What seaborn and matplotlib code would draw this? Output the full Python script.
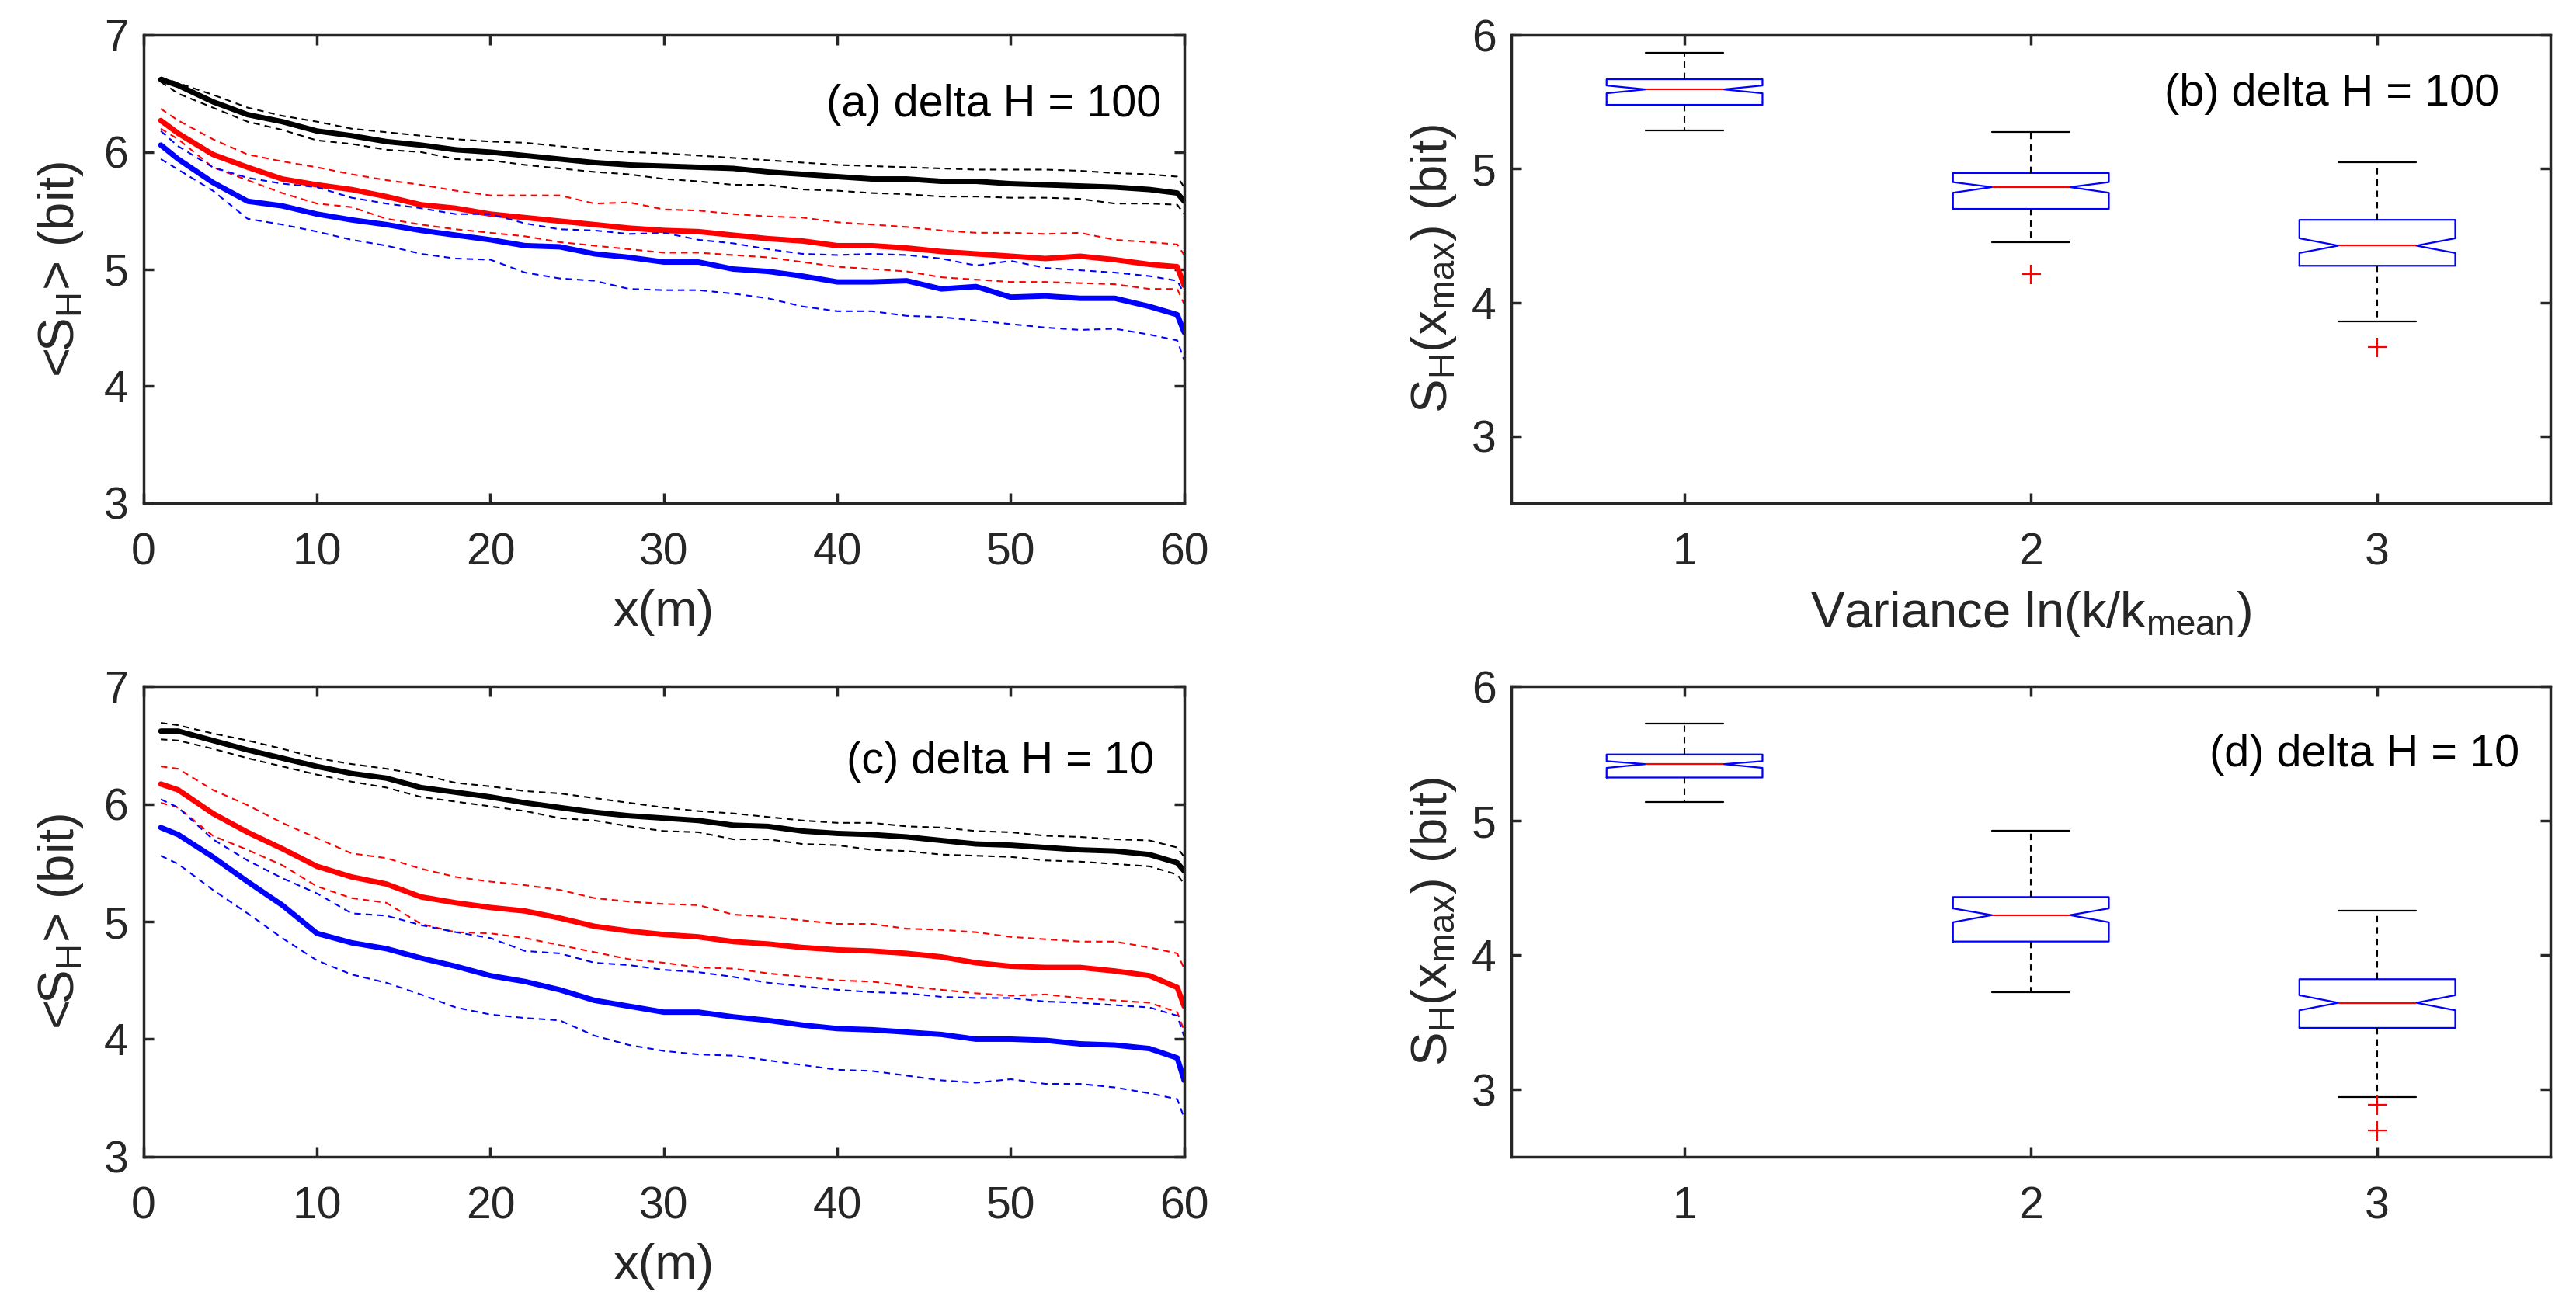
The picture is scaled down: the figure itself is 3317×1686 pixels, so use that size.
import matplotlib
matplotlib.use("Agg")
import matplotlib.pyplot as plt
import seaborn as sns

# distance along the domain (m), common to every profile
x_m = [1, 2, 4, 6, 8, 10, 12, 14, 16, 18, 20, 22, 24, 26, 28, 30,
       32, 34, 36, 38, 40, 42, 44, 46, 48, 50, 52, 54, 56, 58, 59.6, 60]

# panel (a): delta H = 100, mean entropy and mean +/- std
a_black_mean = [6.62, 6.57, 6.43, 6.32, 6.26, 6.18, 6.14, 6.09, 6.06, 6.02, 6.00, 5.97, 5.94, 5.91, 5.89, 5.88,
                5.87, 5.86, 5.83, 5.81, 5.79, 5.77, 5.77, 5.75, 5.75, 5.73, 5.72, 5.71, 5.70, 5.68, 5.65, 5.58]
a_black_up = [6.64, 6.59, 6.49, 6.38, 6.31, 6.26, 6.20, 6.17, 6.14, 6.11, 6.09, 6.08, 6.05, 6.02, 6.00, 5.99,
              5.97, 5.95, 5.93, 5.91, 5.89, 5.88, 5.87, 5.86, 5.85, 5.85, 5.85, 5.84, 5.82, 5.81, 5.79, 5.70]
a_black_lo = [6.60, 6.50, 6.38, 6.26, 6.19, 6.10, 6.07, 6.02, 6.00, 5.94, 5.93, 5.89, 5.86, 5.83, 5.81, 5.77,
              5.75, 5.72, 5.72, 5.68, 5.67, 5.65, 5.64, 5.62, 5.62, 5.61, 5.61, 5.60, 5.56, 5.56, 5.55, 5.47]
a_red_mean = [6.27, 6.16, 5.98, 5.87, 5.77, 5.72, 5.68, 5.62, 5.55, 5.52, 5.47, 5.44, 5.41, 5.38, 5.35, 5.33,
              5.32, 5.29, 5.26, 5.24, 5.20, 5.20, 5.18, 5.15, 5.13, 5.11, 5.09, 5.11, 5.08, 5.04, 5.02, 4.86]
a_red_up = [6.37, 6.27, 6.11, 5.98, 5.92, 5.87, 5.81, 5.76, 5.72, 5.67, 5.63, 5.63, 5.63, 5.56, 5.57, 5.51,
            5.50, 5.47, 5.45, 5.44, 5.40, 5.38, 5.36, 5.33, 5.31, 5.31, 5.30, 5.31, 5.25, 5.23, 5.21, 5.12]
a_red_lo = [6.20, 6.11, 5.87, 5.76, 5.65, 5.56, 5.53, 5.43, 5.38, 5.34, 5.31, 5.28, 5.23, 5.20, 5.17, 5.14,
            5.14, 5.12, 5.10, 5.06, 5.02, 5.00, 4.98, 4.93, 4.91, 4.89, 4.89, 4.88, 4.87, 4.83, 4.83, 4.70]
a_blue_mean = [6.06, 5.94, 5.74, 5.58, 5.54, 5.47, 5.42, 5.38, 5.33, 5.29, 5.25, 5.20, 5.19, 5.13, 5.10, 5.06,
               5.06, 5.00, 4.98, 4.94, 4.89, 4.89, 4.90, 4.83, 4.85, 4.76, 4.77, 4.75, 4.75, 4.68, 4.61, 4.46]
a_blue_up = [6.18, 6.05, 5.87, 5.78, 5.73, 5.70, 5.61, 5.56, 5.52, 5.47, 5.47, 5.39, 5.34, 5.33, 5.30, 5.31,
             5.25, 5.22, 5.17, 5.13, 5.12, 5.13, 5.12, 5.09, 5.03, 5.07, 5.01, 4.99, 4.97, 4.94, 4.90, 4.79]
a_blue_lo = [5.94, 5.85, 5.67, 5.43, 5.38, 5.32, 5.25, 5.20, 5.13, 5.09, 5.08, 4.97, 4.92, 4.90, 4.83, 4.82,
             4.82, 4.79, 4.75, 4.68, 4.64, 4.64, 4.60, 4.59, 4.56, 4.53, 4.50, 4.48, 4.49, 4.44, 4.39, 4.22]

# panel (c): delta H = 10
c_black_mean = [6.62, 6.62, 6.54, 6.46, 6.39, 6.32, 6.26, 6.22, 6.14, 6.10, 6.06, 6.01, 5.97, 5.93, 5.90, 5.88,
                5.86, 5.82, 5.81, 5.77, 5.75, 5.74, 5.72, 5.69, 5.66, 5.65, 5.63, 5.61, 5.60, 5.57, 5.50, 5.43]
c_black_up = [6.69, 6.67, 6.60, 6.54, 6.47, 6.39, 6.34, 6.30, 6.25, 6.18, 6.15, 6.11, 6.09, 6.05, 6.01, 5.97,
              5.94, 5.92, 5.89, 5.86, 5.84, 5.84, 5.81, 5.80, 5.77, 5.76, 5.73, 5.72, 5.70, 5.69, 5.63, 5.55]
c_black_lo = [6.55, 6.54, 6.47, 6.39, 6.32, 6.25, 6.19, 6.14, 6.06, 6.02, 5.98, 5.94, 5.88, 5.86, 5.81, 5.77,
              5.76, 5.70, 5.70, 5.66, 5.65, 5.61, 5.60, 5.57, 5.56, 5.55, 5.52, 5.51, 5.49, 5.47, 5.40, 5.32]
c_red_mean = [6.17, 6.12, 5.92, 5.76, 5.62, 5.47, 5.38, 5.32, 5.21, 5.16, 5.12, 5.09, 5.03, 4.96, 4.92, 4.89,
              4.87, 4.83, 4.81, 4.78, 4.76, 4.75, 4.73, 4.70, 4.65, 4.62, 4.61, 4.61, 4.58, 4.54, 4.44, 4.28]
c_red_up = [6.32, 6.30, 6.12, 5.99, 5.84, 5.71, 5.58, 5.54, 5.45, 5.38, 5.34, 5.31, 5.27, 5.20, 5.17, 5.15,
            5.14, 5.06, 5.04, 5.01, 4.98, 4.98, 4.94, 4.93, 4.91, 4.87, 4.85, 4.83, 4.83, 4.78, 4.73, 4.60]
c_red_lo = [6.01, 5.97, 5.73, 5.61, 5.48, 5.30, 5.20, 5.16, 4.98, 4.91, 4.90, 4.86, 4.80, 4.74, 4.68, 4.65,
            4.61, 4.60, 4.56, 4.53, 4.50, 4.49, 4.45, 4.42, 4.39, 4.37, 4.38, 4.35, 4.33, 4.31, 4.23, 4.07]
c_blue_mean = [5.80, 5.74, 5.55, 5.34, 5.14, 4.90, 4.82, 4.77, 4.69, 4.62, 4.54, 4.49, 4.42, 4.33, 4.28, 4.23,
               4.23, 4.19, 4.16, 4.12, 4.09, 4.08, 4.06, 4.04, 4.00, 4.00, 3.99, 3.96, 3.95, 3.92, 3.84, 3.65]
c_blue_up = [6.04, 5.97, 5.70, 5.52, 5.37, 5.24, 5.07, 5.05, 4.97, 4.91, 4.86, 4.75, 4.73, 4.65, 4.63, 4.59,
             4.57, 4.53, 4.48, 4.45, 4.42, 4.40, 4.39, 4.36, 4.35, 4.35, 4.32, 4.31, 4.29, 4.27, 4.20, 4.02]
c_blue_lo = [5.56, 5.49, 5.27, 5.07, 4.86, 4.67, 4.55, 4.48, 4.38, 4.27, 4.21, 4.18, 4.16, 4.03, 3.95, 3.90,
             3.87, 3.86, 3.82, 3.78, 3.74, 3.73, 3.69, 3.65, 3.63, 3.66, 3.62, 3.62, 3.59, 3.54, 3.49, 3.33]

# box plot statistics of S_H(x_max) for variance 1, 2, 3
variance = [1, 2, 3]
b_med = [5.594, 4.863, 4.425]
b_q1 = [5.478, 4.700, 4.275]
b_q3 = [5.670, 4.968, 4.618]
b_whislo = [5.285, 4.452, 3.860]
b_whishi = [5.869, 5.274, 5.049]
b_cilo = [5.565, 4.821, 4.370]
b_cihi = [5.623, 4.900, 4.480]
b_fliers = [[], [4.21], [3.668]]

d_med = [5.422, 4.298, 3.646]
d_q1 = [5.322, 4.102, 3.459]
d_q3 = [5.494, 4.433, 3.821]
d_whislo = [5.141, 3.724, 2.943]
d_whishi = [5.725, 4.929, 4.333]
d_cilo = [5.394, 4.245, 3.590]
d_cihi = [5.444, 4.348, 3.702]
d_fliers = [[], [], [2.884, 2.697]]

sns.set_theme(style="ticks")
axis_grey = "#262626"
plt.rcParams["font.family"] = ["Liberation Sans", "DejaVu Sans"]
plt.rcParams["mathtext.fontset"] = "custom"
plt.rcParams["mathtext.rm"] = "Liberation Sans"
plt.rcParams["mathtext.it"] = "Liberation Sans:italic"
plt.rcParams["text.color"] = axis_grey
plt.rcParams["axes.labelcolor"] = axis_grey

fig = plt.figure(figsize=(33.17, 16.86), dpi=100)
ax_a = fig.add_axes([0.0557, 0.6157, 0.4040, 0.3575])
ax_b = fig.add_axes([0.5867, 0.6157, 0.4034, 0.3575])
ax_c = fig.add_axes([0.0557, 0.1163, 0.4040, 0.3593])
ax_d = fig.add_axes([0.5867, 0.1163, 0.4034, 0.3593])

LABEL_SIZE = 47
TICK_SIZE = 41
TAG_SIZE = 41.5
DASHED = (0, (4, 3))


def style_axes(ax):
    for side in ["left", "right", "top", "bottom"]:
        ax.spines[side].set_visible(True)
        ax.spines[side].set_linewidth(2.5)
        ax.spines[side].set_color(axis_grey)
    ax.tick_params(axis="both", direction="in", length=9.5, width=2.5, color=axis_grey,
                   labelcolor=axis_grey, labelsize=TICK_SIZE, top=True, right=True)
    ax.tick_params(axis="x", pad=27)
    ax.tick_params(axis="y", pad=14)


def draw_profiles(ax, groups, tag, tag_xy):
    for mean, upper, lower, colour in groups:
        sns.lineplot(x=x_m, y=upper, ax=ax, color=colour, lw=1.5, linestyle=DASHED)
        sns.lineplot(x=x_m, y=lower, ax=ax, color=colour, lw=1.5, linestyle=DASHED)
        sns.lineplot(x=x_m, y=mean, ax=ax, color=colour, lw=5)
    ax.set_xlim(0, 60)
    ax.set_ylim(3, 7)
    ax.set_xticks(range(0, 61, 10))
    ax.set_yticks([3, 4, 5, 6, 7])
    ax.set_xlabel("x(m)", fontsize=LABEL_SIZE, labelpad=14)
    ax.set_ylabel(r"<S$_{\rm H}$> (bit)", fontsize=LABEL_SIZE, labelpad=17)
    ax.text(tag_xy[0], tag_xy[1], tag, transform=ax.transAxes, ha="right", va="baseline",
            fontsize=TAG_SIZE, color="black")
    style_axes(ax)


def draw_boxes(ax, med, q1, q3, lo, hi, cilo, cihi, fliers, tag, tag_xy):
    stats = []
    for i in range(len(variance)):
        stats.append(dict(med=med[i], q1=q1[i], q3=q3[i], whislo=lo[i], whishi=hi[i],
                          cilo=cilo[i], cihi=cihi[i], fliers=fliers[i]))
    ax.bxp(stats, positions=variance, widths=0.45, capwidths=0.225, shownotches=True,
           boxprops=dict(color="blue", lw=1.6),
           medianprops=dict(color="red", lw=1.6),
           whiskerprops=dict(color="black", lw=1.5, linestyle=(0, (4, 3))),
           capprops=dict(color="black", lw=1.6),
           flierprops=dict(marker="+", markeredgecolor="red", markersize=18,
                           markeredgewidth=1.6, linestyle="none"),
           manage_ticks=False)
    ax.set_xlim(0.5, 3.5)
    ax.set_ylim(2.5, 6)
    ax.set_xticks(variance)
    ax.set_yticks([3, 4, 5, 6])
    ax.set_ylabel(r"S$_{\rm H}$(x$_{\rm max}$) (bit)", fontsize=LABEL_SIZE, labelpad=12)
    ax.text(tag_xy[0], tag_xy[1], tag, transform=ax.transAxes, ha="right", va="baseline",
            fontsize=TAG_SIZE, color="black")
    style_axes(ax)


draw_profiles(ax_a, [(a_black_mean, a_black_up, a_black_lo, "black"),
                     (a_red_mean, a_red_up, a_red_lo, "red"),
                     (a_blue_mean, a_blue_up, a_blue_lo, "blue")],
              "(a) delta H = 100", (0.978, 0.826))
draw_profiles(ax_c, [(c_black_mean, c_black_up, c_black_lo, "black"),
                     (c_red_mean, c_red_up, c_red_lo, "red"),
                     (c_blue_mean, c_blue_up, c_blue_lo, "blue")],
              "(c) delta H = 10", (0.971, 0.815))
draw_boxes(ax_b, b_med, b_q1, b_q3, b_whislo, b_whishi, b_cilo, b_cihi, b_fliers,
           "(b) delta H = 100", (0.951, 0.849))
draw_boxes(ax_d, d_med, d_q1, d_q3, d_whislo, d_whishi, d_cilo, d_cihi, d_fliers,
           "(d) delta H = 10", (0.970, 0.830))
ax_b.set_xlabel(r"Variance ln(k/k$_{\rm mean}$)", fontsize=LABEL_SIZE, labelpad=14)

fig.savefig("out.png", dpi=100, facecolor="white")
